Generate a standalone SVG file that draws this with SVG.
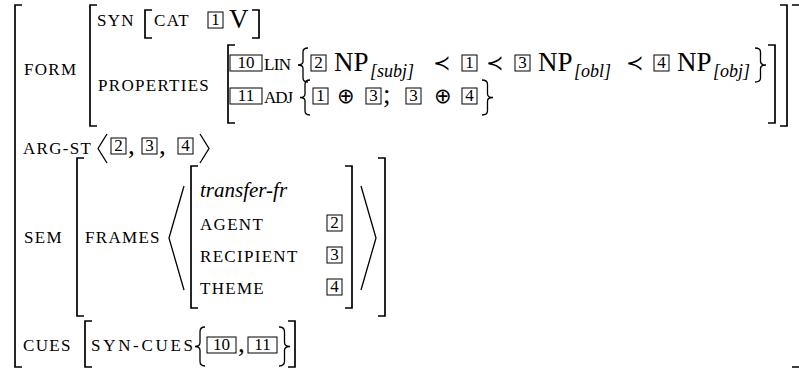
<svg xmlns="http://www.w3.org/2000/svg" width="799" height="375" viewBox="0 0 799 375">
<style>
.sc{font-family:"Liberation Serif","DejaVu Serif",serif;font-size:17px;letter-spacing:1.3px;fill:#000}
.sc0{font-family:"Liberation Serif","DejaVu Serif",serif;font-size:17px;fill:#000}
.rm{font-family:"Liberation Serif","DejaVu Serif",serif;font-size:27px;fill:#000}
.it{font-family:"Liberation Serif","DejaVu Serif",serif;font-style:italic;font-size:21px;fill:#000}
.sub{font-family:"Liberation Serif","DejaVu Serif",serif;font-style:italic;font-size:18px;fill:#000}
.op{font-family:"DejaVu Sans",sans-serif;font-size:21px;fill:#000}
.num{font-family:"Liberation Serif","DejaVu Serif",serif;font-size:17px;text-anchor:middle;fill:#000}
.br{fill:none;stroke:#000;stroke-width:1.7}
.bx{fill:none;stroke:#000;stroke-width:1}
.dl{fill:none;stroke:#000;stroke-width:1.3}
</style>
<rect width="799" height="375" fill="#fff"/>
<g id="outer">
<path class="br" d="M22,5 H15 V367 H22"/>
<path class="br" d="M792,5 H800.6 V367 H792"/>
</g>
<g id="form">
<text class="sc" x="24" y="75">FORM</text>
<path class="br" d="M97,5 H90 V126 H97"/>
<path class="br" d="M780,5 H787 V126 H780"/>
<g id="syn">
<text class="sc" x="97" y="26">SYN</text>
<path class="br" d="M152,10 H145 V38 H152"/>
<path class="br" d="M252,10 H259 V38 H252"/>
<text class="sc" x="154" y="26">CAT</text>
<rect class="bx" x="208" y="12" width="15" height="16"/><text class="num" x="215.5" y="25">1</text>
<text class="rm" x="229" y="28">V</text>
</g>
<g id="properties">
<text class="sc" x="98" y="91">PROPERTIES</text>
<path class="br" d="M235,45 H228 V123 H235"/>
<path class="br" d="M768,45 H775 V123 H768"/>
<g id="lin">
<rect class="bx" x="230" y="55" width="32" height="16"/><text class="num" x="246" y="68">10</text>
<text class="sc0" x="264" y="70" textLength="27">LIN</text>
<path class="dl" d="M308,48 Q303,48 303,52 L303,61.6 Q303,65 298,65 Q303,65 303,68.4 L303,78 Q303,82 308,82"/>
<rect class="bx" x="311" y="55" width="15" height="16"/><text class="num" x="318.5" y="68">2</text>
<text class="rm" x="334" y="71">NP</text><text class="sub" x="370" y="77">[subj]</text>
<text class="op" x="433" y="70">≺</text>
<rect class="bx" x="462" y="55" width="15" height="16"/><text class="num" x="469.5" y="68">1</text>
<text class="op" x="486" y="70">≺</text>
<rect class="bx" x="515" y="55" width="15" height="16"/><text class="num" x="522.5" y="68">3</text>
<text class="rm" x="538" y="71">NP</text><text class="sub" x="574" y="77">[obl]</text>
<text class="op" x="626" y="70">≺</text>
<rect class="bx" x="654" y="55" width="15" height="16"/><text class="num" x="661.5" y="68">4</text>
<text class="rm" x="677" y="71">NP</text><text class="sub" x="713" y="77">[obj]</text>
<path class="dl" d="M755,48 Q760.5,48 760.5,52 L760.5,61.6 Q760.5,65 766,65 Q760.5,65 760.5,68.4 L760.5,78 Q760.5,82 755,82"/>
</g>
<g id="adj">
<rect class="bx" x="230" y="88" width="32" height="16"/><text class="num" x="246" y="101">11</text>
<text class="sc0" x="264" y="103" textLength="29">ADJ</text>
<path class="dl" d="M310,80 Q305,80 305,84.2 L305,94 Q305,97.5 300,97.5 Q305,97.5 305,101 L305,110.8 Q305,115 310,115"/>
<rect class="bx" x="313" y="88" width="15" height="16"/><text class="num" x="320.5" y="101">1</text>
<text class="op" x="337" y="103">⊕</text>
<rect class="bx" x="366" y="88" width="15" height="16"/><text class="num" x="373.5" y="101">3</text>
<text class="rm" x="383" y="103">;</text>
<rect class="bx" x="406" y="88" width="15" height="16"/><text class="num" x="413.5" y="101">3</text>
<text class="op" x="434" y="103">⊕</text>
<rect class="bx" x="462" y="88" width="15" height="16"/><text class="num" x="469.5" y="101">4</text>
<path class="dl" d="M482,80 Q487.5,80 487.5,84.2 L487.5,94 Q487.5,97.5 493,97.5 Q487.5,97.5 487.5,101 L487.5,110.8 Q487.5,115 482,115"/>
</g>
</g>
</g>
<g id="argst">
<text class="sc" x="23" y="154">ARG-ST</text>
<path class="dl" d="M107,134 L98,148.5 L107,163"/>
<rect class="bx" x="111" y="138" width="15" height="16"/><text class="num" x="118.5" y="151">2</text>
<text class="rm" x="128" y="154">,</text>
<rect class="bx" x="142" y="138" width="15" height="16"/><text class="num" x="149.5" y="151">3</text>
<text class="rm" x="159" y="154">,</text>
<rect class="bx" x="178" y="138" width="15" height="16"/><text class="num" x="185.5" y="151">4</text>
<path class="dl" d="M200,134 L209,148.5 L200,163"/>
</g>
<g id="sem">
<text class="sc" x="24" y="243">SEM</text>
<path class="br" d="M84,158 H77 V316 H84"/>
<path class="br" d="M378,158 H385 V316 H378"/>
<text class="sc" x="85" y="243">FRAMES</text>
<path class="dl" d="M184,186 L169,238 L184,290"/>
<path class="dl" d="M361,186 L376,238 L361,290"/>
<g id="frame">
<path class="br" d="M198,166 H191 V308 H198"/>
<path class="br" d="M345,166 H352 V308 H345"/>
<text class="it" x="200" y="197">transfer-fr</text>
<text class="sc" x="200" y="230">AGENT</text>
<rect class="bx" x="327" y="215" width="15" height="16"/><text class="num" x="334.5" y="228">2</text>
<text class="sc" x="200" y="262">RECIPIENT</text>
<rect class="bx" x="327" y="247" width="15" height="16"/><text class="num" x="334.5" y="260">3</text>
<text class="sc" x="200" y="294">THEME</text>
<rect class="bx" x="327" y="279" width="15" height="16"/><text class="num" x="334.5" y="292">4</text>
</g>
</g>
<g id="cues">
<text class="sc" x="23" y="351">CUES</text>
<path class="br" d="M92,321 H85 V367 H92"/>
<path class="br" d="M288,321 H295 V367 H288"/>
<text class="sc0" x="91" y="351" textLength="102">SYN-CUES</text>
<path class="dl" d="M205,327 Q200,327 200,331.7 L200,342.6 Q200,346.5 195,346.5 Q200,346.5 200,350.4 L200,361.3 Q200,366 205,366"/>
<rect class="bx" x="207" y="337" width="29" height="16"/><text class="num" x="221.5" y="350">10</text>
<text class="rm" x="238" y="352">,</text>
<rect class="bx" x="248" y="337" width="29" height="16"/><text class="num" x="262.5" y="350">11</text>
<path class="dl" d="M279,327 Q284.5,327 284.5,331.7 L284.5,342.6 Q284.5,346.5 290,346.5 Q284.5,346.5 284.5,350.4 L284.5,361.3 Q284.5,366 279,366"/>
</g>
</svg>
